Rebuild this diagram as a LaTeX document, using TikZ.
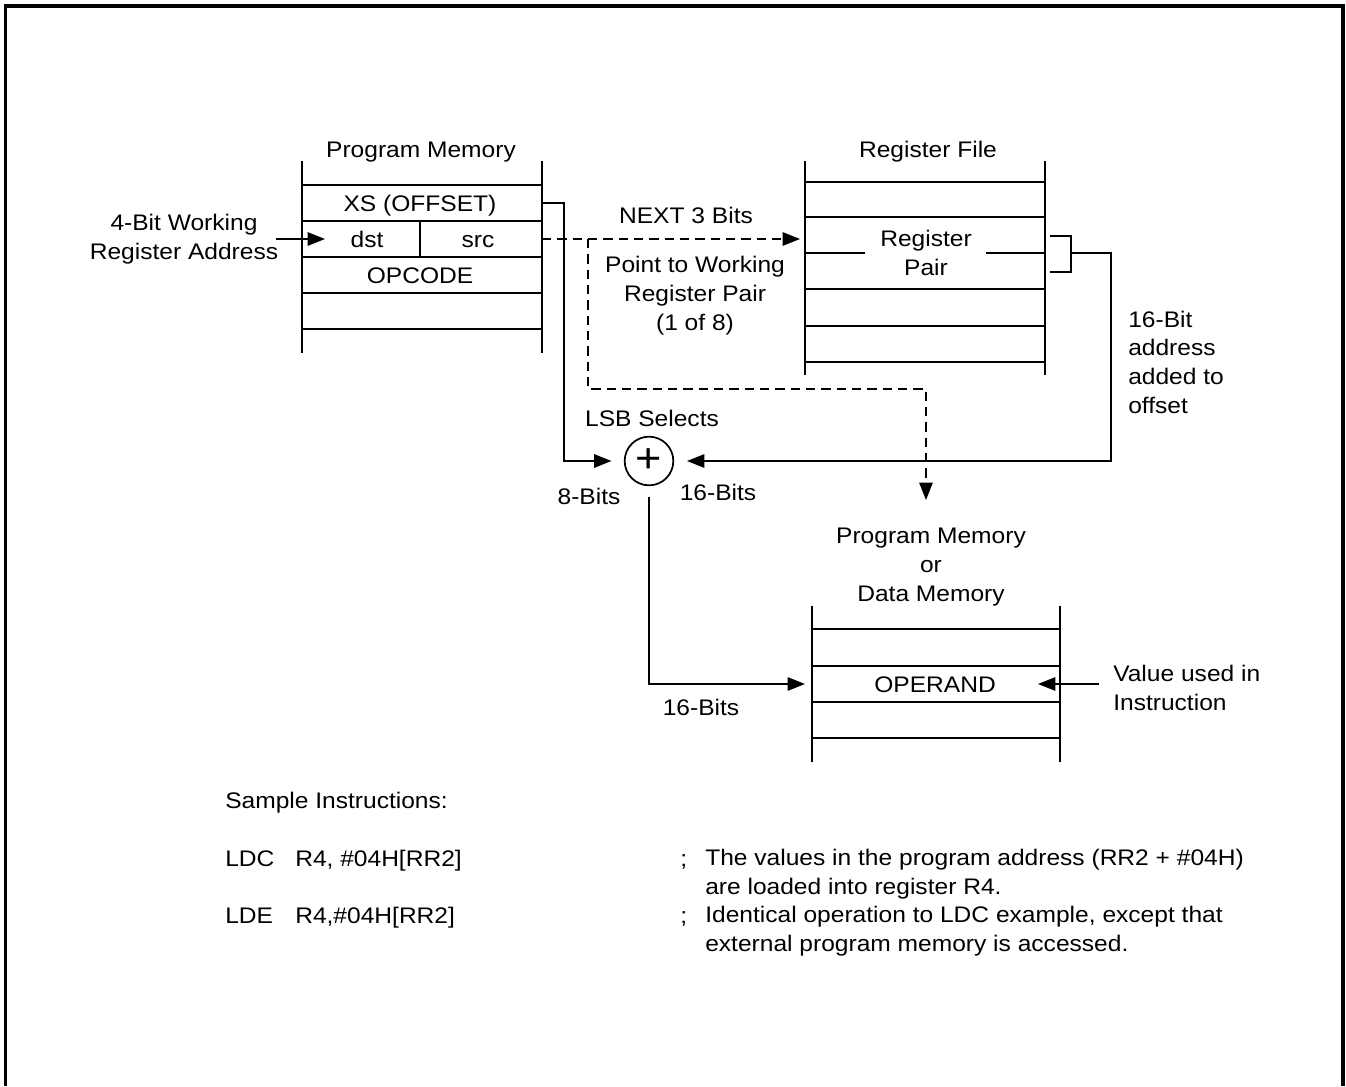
\documentclass[tikz,border=0pt]{standalone}
\usepackage{fontspec}
\setmainfont{Liberation Sans}[FakeStretch=1.09]
\usetikzlibrary{arrows.meta}
\newcommand\lblfont{\fontsize{16.9}{21.4}\selectfont}
\newcommand\plusfont{\fontsize{31}{31}\selectfont}
\begin{document}
\begin{tikzpicture}[x=0.75pt,y=-0.75pt,
  ln/.style={line width=1.3pt},
  arr/.style={-{Triangle[length=13pt,width=10pt]}},
  dsh/.style={dash pattern=on 7pt off 4.5pt},
  lbl/.style={inner sep=0pt,font=\lblfont},
  frame/.style={line width=2.5pt}]
\useasboundingbox (0,0) rectangle (1346,1086);
% outer frame (open at bottom)
\draw[frame] (5.5,1086) -- (5.5,6) -- (1343,6) -- (1343,1086);

% Program Memory block
\draw[ln] (302,161) -- (302,353) (542,161) -- (542,353);
\foreach \y in {185,221,257,293,329} \draw[ln] (302,\y) -- (542,\y);
\draw[ln] (420,221) -- (420,257);

% Register File block
\draw[ln] (805,161) -- (805,375) (1045,161) -- (1045,375);
\foreach \y in {182,217,289,326,362} \draw[ln] (805,\y) -- (1045,\y);
\draw[ln] (805,253) -- (865,253) (986,253) -- (1045,253);

% Program / Data Memory block
\draw[ln] (812,606) -- (812,762) (1060,606) -- (1060,762);
\foreach \y in {629,666,702,738} \draw[ln] (812,\y) -- (1060,\y);

% adder
\node[circle,draw,ln,minimum size=36.5pt,inner sep=0pt] (plus) at (649,461) {\plusfont +};

% connector end points
\coordinate (addrIn) at (276,239);
\coordinate (dstIn) at (325,239);
\coordinate (xsOut) at (542,203);
\coordinate (xsTurn) at (564,203);
\coordinate (srcOut) at (542,239);
\coordinate (rfIn) at (800,239);
\coordinate (dashSplit) at (588,239);
\coordinate (dashTurn) at (926,389);
\coordinate (dmTop) at (926,500);
\coordinate (brTop) at (1050,236);
\coordinate (brBot) at (1050,272);
\coordinate (pairOut) at (1071,253);
\coordinate (pairTurn) at (1111,461);
\coordinate (plusInL) at (611.5,461);
\coordinate (plusInR) at (687,461);
\coordinate (plusOut) at (649,497);
\coordinate (operandIn) at (805,684);
\coordinate (valueFrom) at (1099,684);
\coordinate (operandR) at (1038,684);

% connectors
\draw[ln,arr] (addrIn) -- (dstIn);
\draw[ln,arr] (xsOut) -- (xsTurn) |- (plusInL);
\draw[ln,dsh,arr] (srcOut) -- (rfIn);
\draw[ln,dsh,arr] (dashSplit) |- (dashTurn) -- (dmTop);
\draw[ln] (brTop) -- (1071,236) -- (1071,272) -- (brBot);
\draw[ln,arr] (pairOut) -| (pairTurn) -- (plusInR);
\draw[ln,arr] (plusOut) |- (operandIn);
\draw[ln,arr] (valueFrom) -- (operandR);

% labels (multi-line nodes: base = baseline of last line)
\node[lbl,anchor=base] (pmTitle) at (421,157) {Program Memory};
\node[lbl,anchor=base] (rfTitle) at (928,157) {Register File};
\node[lbl,anchor=base] (xs) at (420,211) {XS (OFFSET)};
\node[lbl,anchor=base] (dst) at (367,247) {dst};
\node[lbl,anchor=base] (src) at (478,247) {src};
\node[lbl,anchor=base] (opc) at (420,283) {OPCODE};
\node[lbl,anchor=base,align=center] (wra) at (184,259) {4-Bit Working\\Register Address};
\node[lbl,anchor=base] (next3) at (686,223) {NEXT 3 Bits};
\node[lbl,anchor=base,align=center] (ptw) at (695,330) {Point to Working\\Register Pair\\(1 of 8)};
\node[lbl,anchor=base,align=center] (rpair) at (926,275) {Register\\Pair};
\node[lbl,anchor=base west,align=left] (addr16) at (1128,413) {16-Bit\\address\\added to\\offset};
\node[lbl,anchor=base] (lsb) at (652,426) {LSB Selects};
\node[lbl,anchor=base] (b8) at (589,504) {8-Bits};
\node[lbl,anchor=base] (b16a) at (718,500) {16-Bits};
\node[lbl,anchor=base] (b16b) at (701,715) {16-Bits};
\node[lbl,anchor=base,align=center] (dmTitle) at (931,601) {Program Memory\\or\\Data Memory};
\node[lbl,anchor=base] (operand) at (935,692) {OPERAND};
\node[lbl,anchor=base west,align=left] (valUsed) at (1113,710) {Value used in\\Instruction};

% sample instructions
\node[lbl,anchor=base west] (sample) at (225,808) {Sample Instructions:};
\node[lbl,anchor=base west] (ldc) at (225,866) {LDC};
\node[lbl,anchor=base west] (ldcop) at (295,866) {R4, \#04H[RR2]};
\node[lbl,anchor=base west] (semi1) at (680,866) {;};
\node[lbl,anchor=base west,align=left] (ldcc) at (705,894) {The values in the program address (RR2 + \#04H)\\are loaded into register R4.};
\node[lbl,anchor=base west] (lde) at (225,923) {LDE};
\node[lbl,anchor=base west] (ldeop) at (295,923) {R4,\#04H[RR2]};
\node[lbl,anchor=base west] (semi2) at (680,923) {;};
\node[lbl,anchor=base west,align=left] (ldec) at (705,951) {Identical operation to LDC example, except that\\external program memory is accessed.};
\end{tikzpicture}
\end{document}
